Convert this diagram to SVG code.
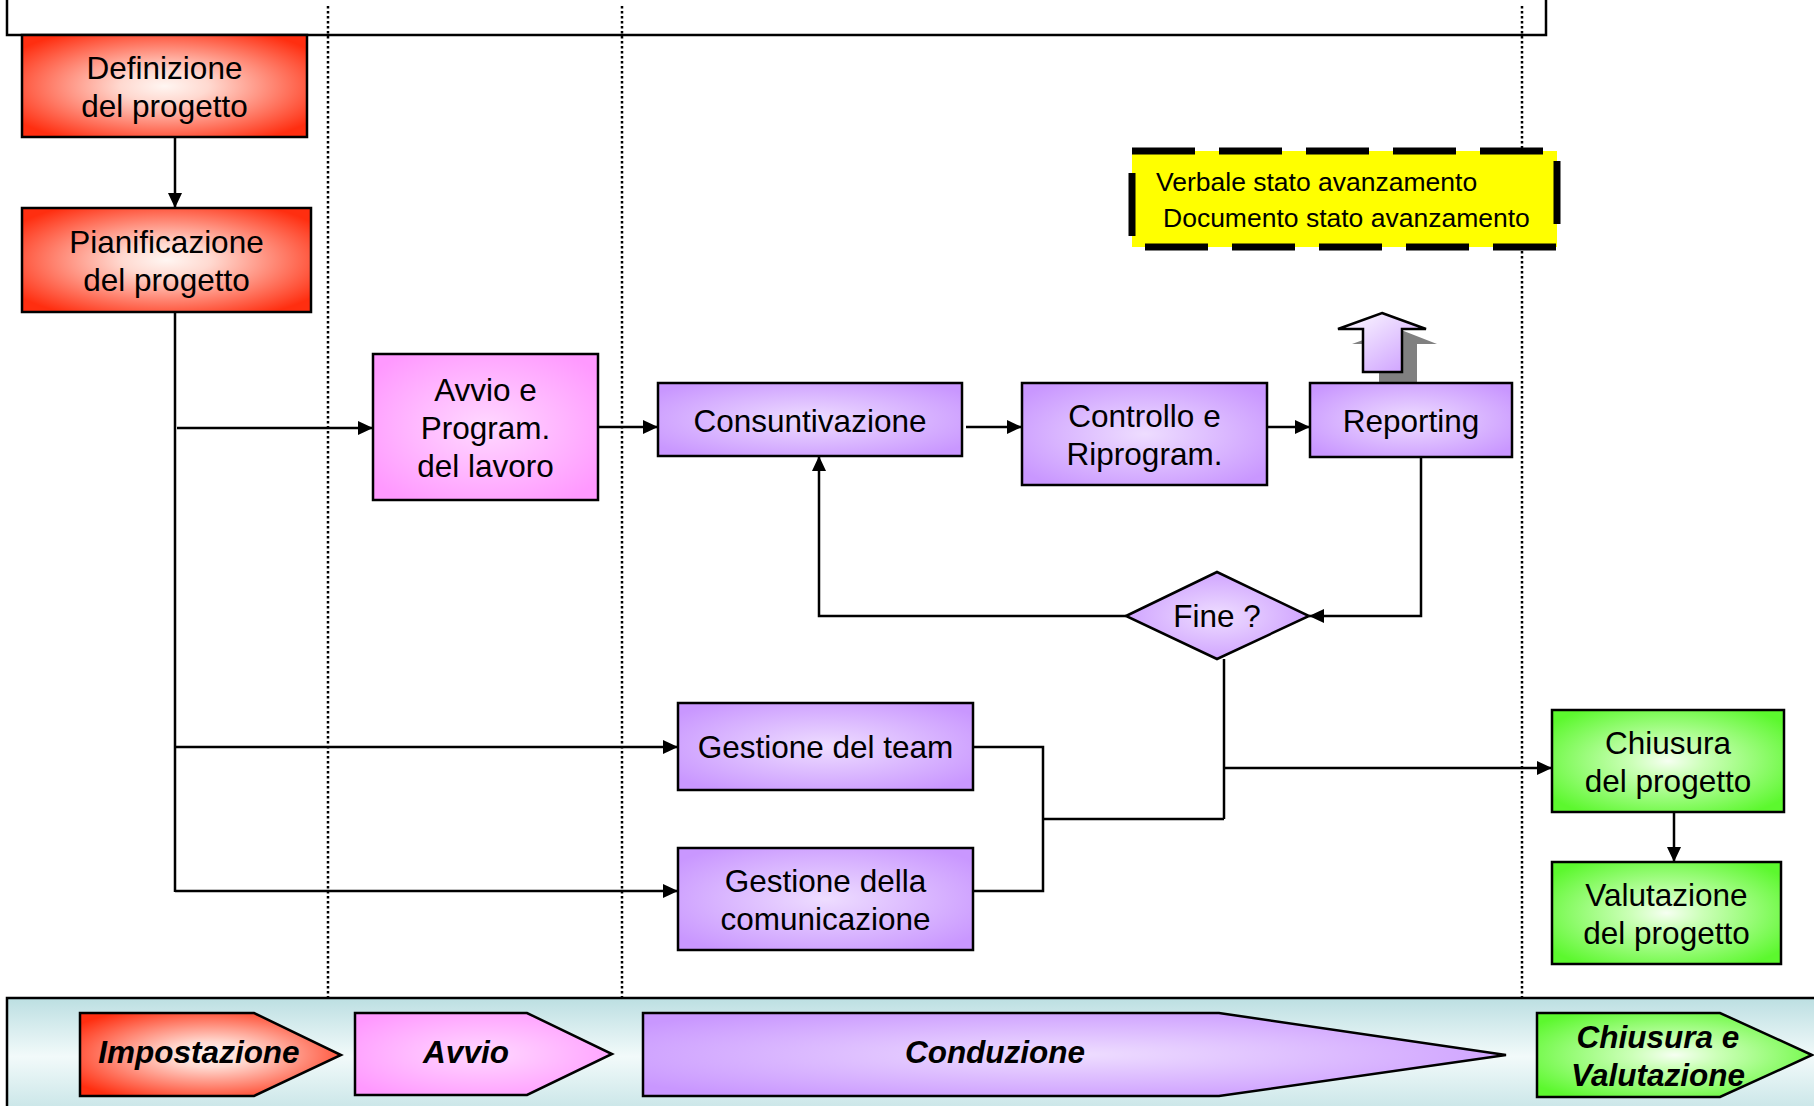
<svg xmlns="http://www.w3.org/2000/svg" width="1814" height="1106" viewBox="0 0 1814 1106">
<defs>
<radialGradient id="gRed" cx="0.5" cy="0.5" r="0.62">
<stop offset="0" stop-color="#FFF6F2"/><stop offset="0.25" stop-color="#FFD9D0"/><stop offset="1" stop-color="#FF2E10"/>
</radialGradient>
<radialGradient id="gPink" cx="0.5" cy="0.5" r="0.62">
<stop offset="0" stop-color="#FFD8FF"/><stop offset="1" stop-color="#FF99FF"/>
</radialGradient>
<radialGradient id="gPurple" cx="0.5" cy="0.5" r="0.62">
<stop offset="0" stop-color="#EEDDFF"/><stop offset="1" stop-color="#C997FF"/>
</radialGradient>
<radialGradient id="gGreen" cx="0.5" cy="0.5" r="0.62">
<stop offset="0" stop-color="#F6FFF2"/><stop offset="0.25" stop-color="#CCFFB8"/><stop offset="1" stop-color="#5CF82E"/>
</radialGradient>
<linearGradient id="gBand" x1="0" y1="0" x2="0" y2="1">
<stop offset="0" stop-color="#BCDFE2"/><stop offset="0.45" stop-color="#F2FAFA"/><stop offset="1" stop-color="#BCDFE2"/>
</linearGradient>
<linearGradient id="gUp" x1="0" y1="0" x2="1" y2="1">
<stop offset="0" stop-color="#FFFFFF"/><stop offset="1" stop-color="#C997FF"/>
</linearGradient>
<marker id="ah" markerUnits="userSpaceOnUse" markerWidth="15" markerHeight="14" refX="15" refY="7" orient="auto">
<path d="M0,0 L15,7 L0,14 z" fill="#000"/>
</marker>
<style>
.box{stroke:#000;stroke-width:2.5}
.t{font-family:"Liberation Sans",Arial,sans-serif;font-size:31.5px;fill:#000;text-anchor:middle}
.ph{font-family:"Liberation Sans",Arial,sans-serif;font-size:31.5px;font-weight:bold;font-style:italic;fill:#000;text-anchor:middle}
.y{font-family:"Liberation Sans",Arial,sans-serif;font-size:26.5px;fill:#000}
.c{fill:none;stroke:#000;stroke-width:2.5}
.dot{stroke:#000;stroke-width:2.5;stroke-dasharray:2.5 2.5}
</style>
</defs>

<g id="frame">
<rect x="7" y="-10" width="1539" height="45" fill="#fff" stroke="#000" stroke-width="2.5"/>
</g>

<g id="band">
<rect x="7" y="998" width="1830" height="130" fill="url(#gBand)" stroke="#000" stroke-width="2.5"/>
</g>

<g id="lanes">
<line class="dot" x1="328" y1="6" x2="328" y2="998"/>
<line class="dot" x1="622" y1="6" x2="622" y2="998"/>
<line class="dot" x1="1522" y1="6" x2="1522" y2="998"/>
</g>

<g id="connectors">
<line class="c" x1="175" y1="137" x2="175" y2="208" marker-end="url(#ah)"/>
<line class="c" x1="175" y1="312" x2="175" y2="892"/>
<line class="c" x1="177" y1="428" x2="373" y2="428" marker-end="url(#ah)"/>
<line class="c" x1="175" y1="747" x2="678" y2="747" marker-end="url(#ah)"/>
<line class="c" x1="175" y1="891" x2="678" y2="891" marker-end="url(#ah)"/>
<line class="c" x1="598" y1="427" x2="658" y2="427" marker-end="url(#ah)"/>
<line class="c" x1="966" y1="427" x2="1022" y2="427" marker-end="url(#ah)"/>
<line class="c" x1="1267" y1="427" x2="1310" y2="427" marker-end="url(#ah)"/>
<path class="c" d="M1421,457 V616 H1309" marker-end="url(#ah)"/>
<path class="c" d="M1126,616 H819 V456" marker-end="url(#ah)"/>
<path class="c" d="M973,747 H1043 V891 H973"/>
<path class="c" d="M1043,819 H1224"/>
<path class="c" d="M1224,659 V819"/>
<line class="c" x1="1224" y1="768" x2="1552" y2="768" marker-end="url(#ah)"/>
<line class="c" x1="1674" y1="812" x2="1674" y2="862" marker-end="url(#ah)"/>
</g>

<g id="definizione">
<rect class="box" x="22" y="35" width="285" height="102" fill="url(#gRed)"/>
<text class="t" x="164.5" y="79">Definizione</text>
<text class="t" x="164.5" y="117">del progetto</text>
</g>

<g id="pianificazione">
<rect class="box" x="22" y="208" width="289" height="104" fill="url(#gRed)"/>
<text class="t" x="166.5" y="253">Pianificazione</text>
<text class="t" x="166.5" y="291">del progetto</text>
</g>

<g id="avvio">
<rect class="box" x="373" y="354" width="225" height="146" fill="url(#gPink)"/>
<text class="t" x="485.5" y="401">Avvio e</text>
<text class="t" x="485.5" y="439">Program.</text>
<text class="t" x="485.5" y="477">del lavoro</text>
</g>

<g id="consuntivazione">
<rect class="box" x="658" y="383" width="304" height="73" fill="url(#gPurple)"/>
<text class="t" x="810" y="432">Consuntivazione</text>
</g>

<g id="controllo">
<rect class="box" x="1022" y="383" width="245" height="102" fill="url(#gPurple)"/>
<text class="t" x="1144.5" y="427">Controllo e</text>
<text class="t" x="1144.5" y="465">Riprogram.</text>
</g>

<g id="uparrow">
<polygon points="1396,328 1437,344 1417,344 1417,387 1379,387 1379,344 1352,344" fill="#808080"/>
<polygon points="1382,313 1426,329 1402,329 1402,372 1363,372 1363,329 1338,329" fill="url(#gUp)" stroke="#000" stroke-width="2.5" stroke-linejoin="miter"/>
</g>

<g id="reporting">
<rect class="box" x="1310" y="383" width="202" height="74" fill="url(#gPurple)"/>
<text class="t" x="1411" y="432">Reporting</text>
</g>

<g id="documenti">
<rect x="1132" y="151" width="425" height="96" fill="#FFFF00" stroke="#000" stroke-width="7" stroke-dasharray="63 24"/>
<text class="y" x="1156" y="191">Verbale stato avanzamento</text>
<text class="y" x="1163" y="227">Documento stato avanzamento</text>
</g>

<g id="fine">
<polygon class="box" points="1126,616 1217,572 1309,616 1217,659" fill="url(#gPurple)"/>
<text class="t" x="1217" y="627">Fine ?</text>
</g>

<g id="team">
<rect class="box" x="678" y="703" width="295" height="87" fill="url(#gPurple)"/>
<text class="t" x="825.5" y="758">Gestione del team</text>
</g>

<g id="comunicazione">
<rect class="box" x="678" y="848" width="295" height="102" fill="url(#gPurple)"/>
<text class="t" x="825.5" y="892">Gestione della</text>
<text class="t" x="825.5" y="930">comunicazione</text>
</g>

<g id="chiusura">
<rect class="box" x="1552" y="710" width="232" height="102" fill="url(#gGreen)"/>
<text class="t" x="1668" y="754">Chiusura</text>
<text class="t" x="1668" y="792">del progetto</text>
</g>

<g id="valutazione">
<rect class="box" x="1552" y="862" width="229" height="102" fill="url(#gGreen)"/>
<text class="t" x="1666.5" y="906">Valutazione</text>
<text class="t" x="1666.5" y="944">del progetto</text>
</g>

<g id="phase-impostazione">
<polygon class="box" points="80,1013 254,1013 341,1055 254,1096 80,1096" fill="url(#gRed)"/>
<text class="ph" x="199" y="1063">Impostazione</text>
</g>
<g id="phase-avvio">
<polygon class="box" points="355,1013 527,1013 612,1054 527,1095 355,1095" fill="url(#gPink)"/>
<text class="ph" x="466" y="1063">Avvio</text>
</g>
<g id="phase-conduzione">
<polygon class="box" points="643,1013 1219,1013 1506,1055 1219,1096 643,1096" fill="url(#gPurple)"/>
<text class="ph" x="995" y="1063">Conduzione</text>
</g>
<g id="phase-chiusura">
<polygon class="box" points="1537,1013 1720,1013 1812,1055 1720,1097 1537,1097" fill="url(#gGreen)"/>
<text class="ph" x="1658" y="1048">Chiusura e</text>
<text class="ph" x="1658" y="1086">Valutazione</text>
</g>
</svg>
